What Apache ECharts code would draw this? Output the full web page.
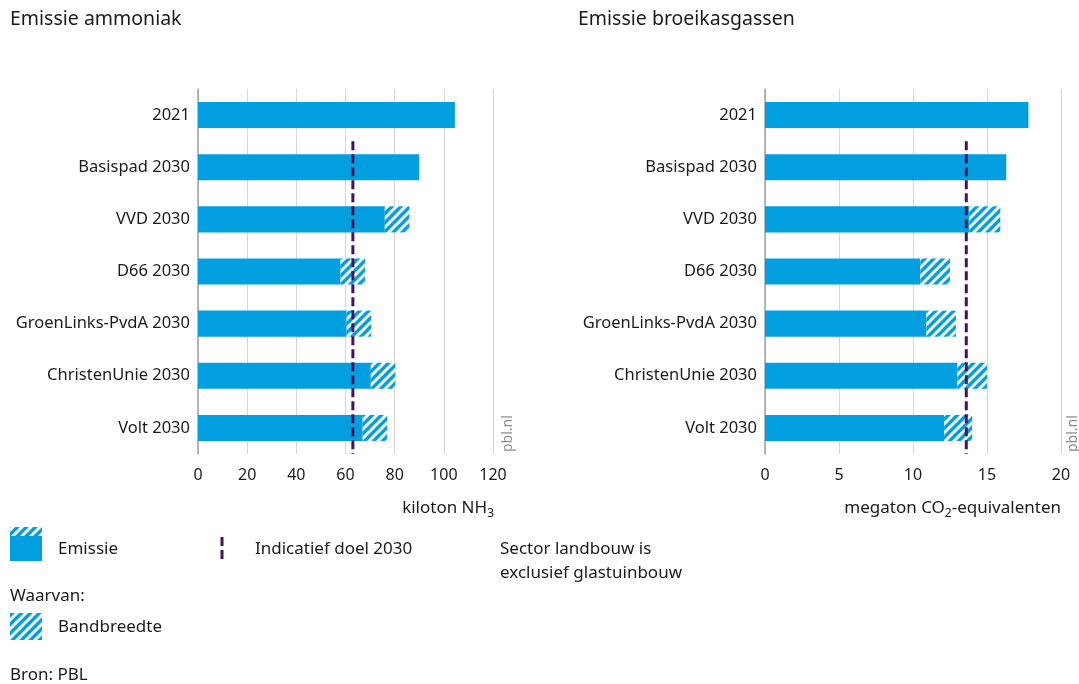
<!DOCTYPE html>
<html><head><meta charset="utf-8">
<script src="https://cdn.jsdelivr.net/npm/echarts@6/dist/echarts.min.js"></script>
<style>html,body{margin:0;padding:0;background:#fff}#c{width:1079px;height:684px}</style>
</head><body><div id="c"></div>
<script>
const categories = ['2021','Basispad 2030','VVD 2030','D66 2030','GroenLinks-PvdA 2030','ChristenUnie 2030','Volt 2030'];
// Ammoniak (kiloton NH3): lower bound (solid) and upper bound (end of band)
const nh3Low  = [104.5, 90, 76, 58, 60.5, 70.3, 67];
const nh3High = [104.5, 90, 86, 68, 70.5, 80.3, 77];
const nh3Target = 63;
// Broeikasgassen (megaton CO2-eq)
const ghgLow  = [17.8, 16.3, 13.8, 10.5, 10.9, 13.0, 12.1];
const ghgHigh = [17.8, 16.3, 15.9, 12.5, 12.9, 15.0, 14.0];
const ghgTarget = 13.6;
const nh3Ticks = {min:0, max:120, interval:20};
const ghgTicks = {min:0, max:20, interval:5};

const BLUE = '#019fe0', PURPLE = '#42145f';
const FONT = 'Noto Sans';

function makeHatch(){
  const s = 9, c = document.createElement('canvas');
  c.width = s; c.height = s;
  const g = c.getContext('2d');
  g.fillStyle = BLUE; g.fillRect(0,0,s,s);
  g.strokeStyle = '#fff'; g.lineWidth = 3;
  g.beginPath();
  g.moveTo(-s, 2*s); g.lineTo(2*s, -s);
  g.moveTo(-2*s, 2*s); g.lineTo(s, -s);
  g.moveTo(0, 2*s); g.lineTo(3*s, -s);
  g.stroke();
  return c;
}
const hatch = {image: makeHatch(), repeat: 'repeat'};

function band(lo, hi){ return hi.map((h,i)=> (h-lo[i]) > 0.001 ? +(h-lo[i]).toFixed(2) : '-'); }

const chart = echarts.init(document.getElementById('c'), null, {renderer:'canvas'});
const grids = [
  {left:198, top:89, width:295, height:365},
  {left:765, top:89, width:296, height:365}
];
function catAxis(gi){
  return {type:'category', gridIndex:gi, data:categories, inverse:true,
    axisLine:{show:true, lineStyle:{color:'#a0a0a0', width:1.5}},
    axisTick:{show:false},
    axisLabel:{color:'#1a1a1a', fontSize:16.5, fontFamily:FONT, margin:8, padding:[3,0,0,0]}};
}
function helperY(gi){
  return {type:'value', gridIndex:gi, min:0, max:7, inverse:true, show:false};
}
function valAxis(gi, t){
  return {type:'value', gridIndex:gi, min:t.min, max:t.max, interval:t.interval,
    axisLine:{show:false}, axisTick:{show:false},
    splitLine:{show:true, lineStyle:{color:'#d6d6d6', width:1}},
    axisLabel:{color:'#1a1a1a', fontSize:16, fontFamily:FONT, margin:13}};
}
function seriesFor(gi, lo, hi, target){
  return [
    {type:'bar', xAxisIndex:gi, yAxisIndex:gi*2, stack:'s'+gi, data:lo, barWidth:'50%',
      itemStyle:{color:BLUE}, silent:true},
    {type:'bar', xAxisIndex:gi, yAxisIndex:gi*2, stack:'s'+gi, data:band(lo,hi), barWidth:'50%',
      itemStyle:{color:hatch}, silent:true},
    {type:'line', xAxisIndex:gi, yAxisIndex:gi*2+1, data:[[target,1],[target,7]], symbol:'none',
      lineStyle:{color:PURPLE, width:3, type:[9,4]}, silent:true, z:5}
  ];
}

const F17 = '17px "'+FONT+'"';
const txt = (x,y,t,extra)=>({type:'text', left:x, top:y, style:Object.assign({text:t, fill:'#1a1a1a', font:F17}, extra||{})});
const richName = (a1,b,a2)=>({
  text: '{a|'+a1+'}{b|'+b+'}' + (a2 ? '{a|'+a2+'}' : ''),
  rich:{a:{fontSize:17,fontFamily:FONT,fill:'#1a1a1a'}, b:{fontSize:12,fontFamily:FONT,fill:'#1a1a1a',padding:[11,0,0,0]}}
});

chart.setOption({
  animation:false,
  grid: grids,
  yAxis:[catAxis(0), helperY(0), catAxis(1), helperY(1)],
  xAxis:[valAxis(0,nh3Ticks), valAxis(1,ghgTicks)],
  series:[...seriesFor(0,nh3Low,nh3High,nh3Target), ...seriesFor(1,ghgLow,ghgHigh,ghgTarget)],
  graphic:[
    txt(10,9,'Emissie ammoniak',{font:'19.5px "'+FONT+'"'}),
    txt(578,9,'Emissie broeikasgassen',{font:'19.5px "'+FONT+'"'}),
    {type:'text', right:1079-494, top:500, style:richName('kiloton NH','3')},
    {type:'text', right:1079-1061, top:500, style:richName('megaton CO','2','-equivalenten')},
    {type:'text', x:515, y:452, rotation:Math.PI/2, style:{text:'pbl.nl', fill:'#8c8c8c', font:'14px "'+FONT+'"', textVerticalAlign:'bottom'}},
    {type:'text', x:1080, y:452, rotation:Math.PI/2, style:{text:'pbl.nl', fill:'#8c8c8c', font:'14px "'+FONT+'"', textVerticalAlign:'bottom'}},
    // legend
    {type:'rect', shape:{x:10,y:530,width:32,height:31}, style:{fill:BLUE}},
    {type:'rect', shape:{x:10,y:527,width:32,height:9}, style:{fill:hatch}},
    txt(58,541,'Emissie'),
    {type:'line', shape:{x1:222,y1:537,x2:222,y2:561}, style:{stroke:PURPLE, lineWidth:3, lineDash:[9,4]}},
    txt(255,541,'Indicatief doel 2030'),
    txt(500,541,'Sector landbouw is'),
    txt(500,565,'exclusief glastuinbouw'),
    txt(10,588,'Waarvan:'),
    {type:'rect', shape:{x:10,y:613,width:32,height:27}, style:{fill:hatch}},
    txt(58,619,'Bandbreedte'),
    txt(10,667,'Bron: PBL')
  ]
});
</script></body></html>
